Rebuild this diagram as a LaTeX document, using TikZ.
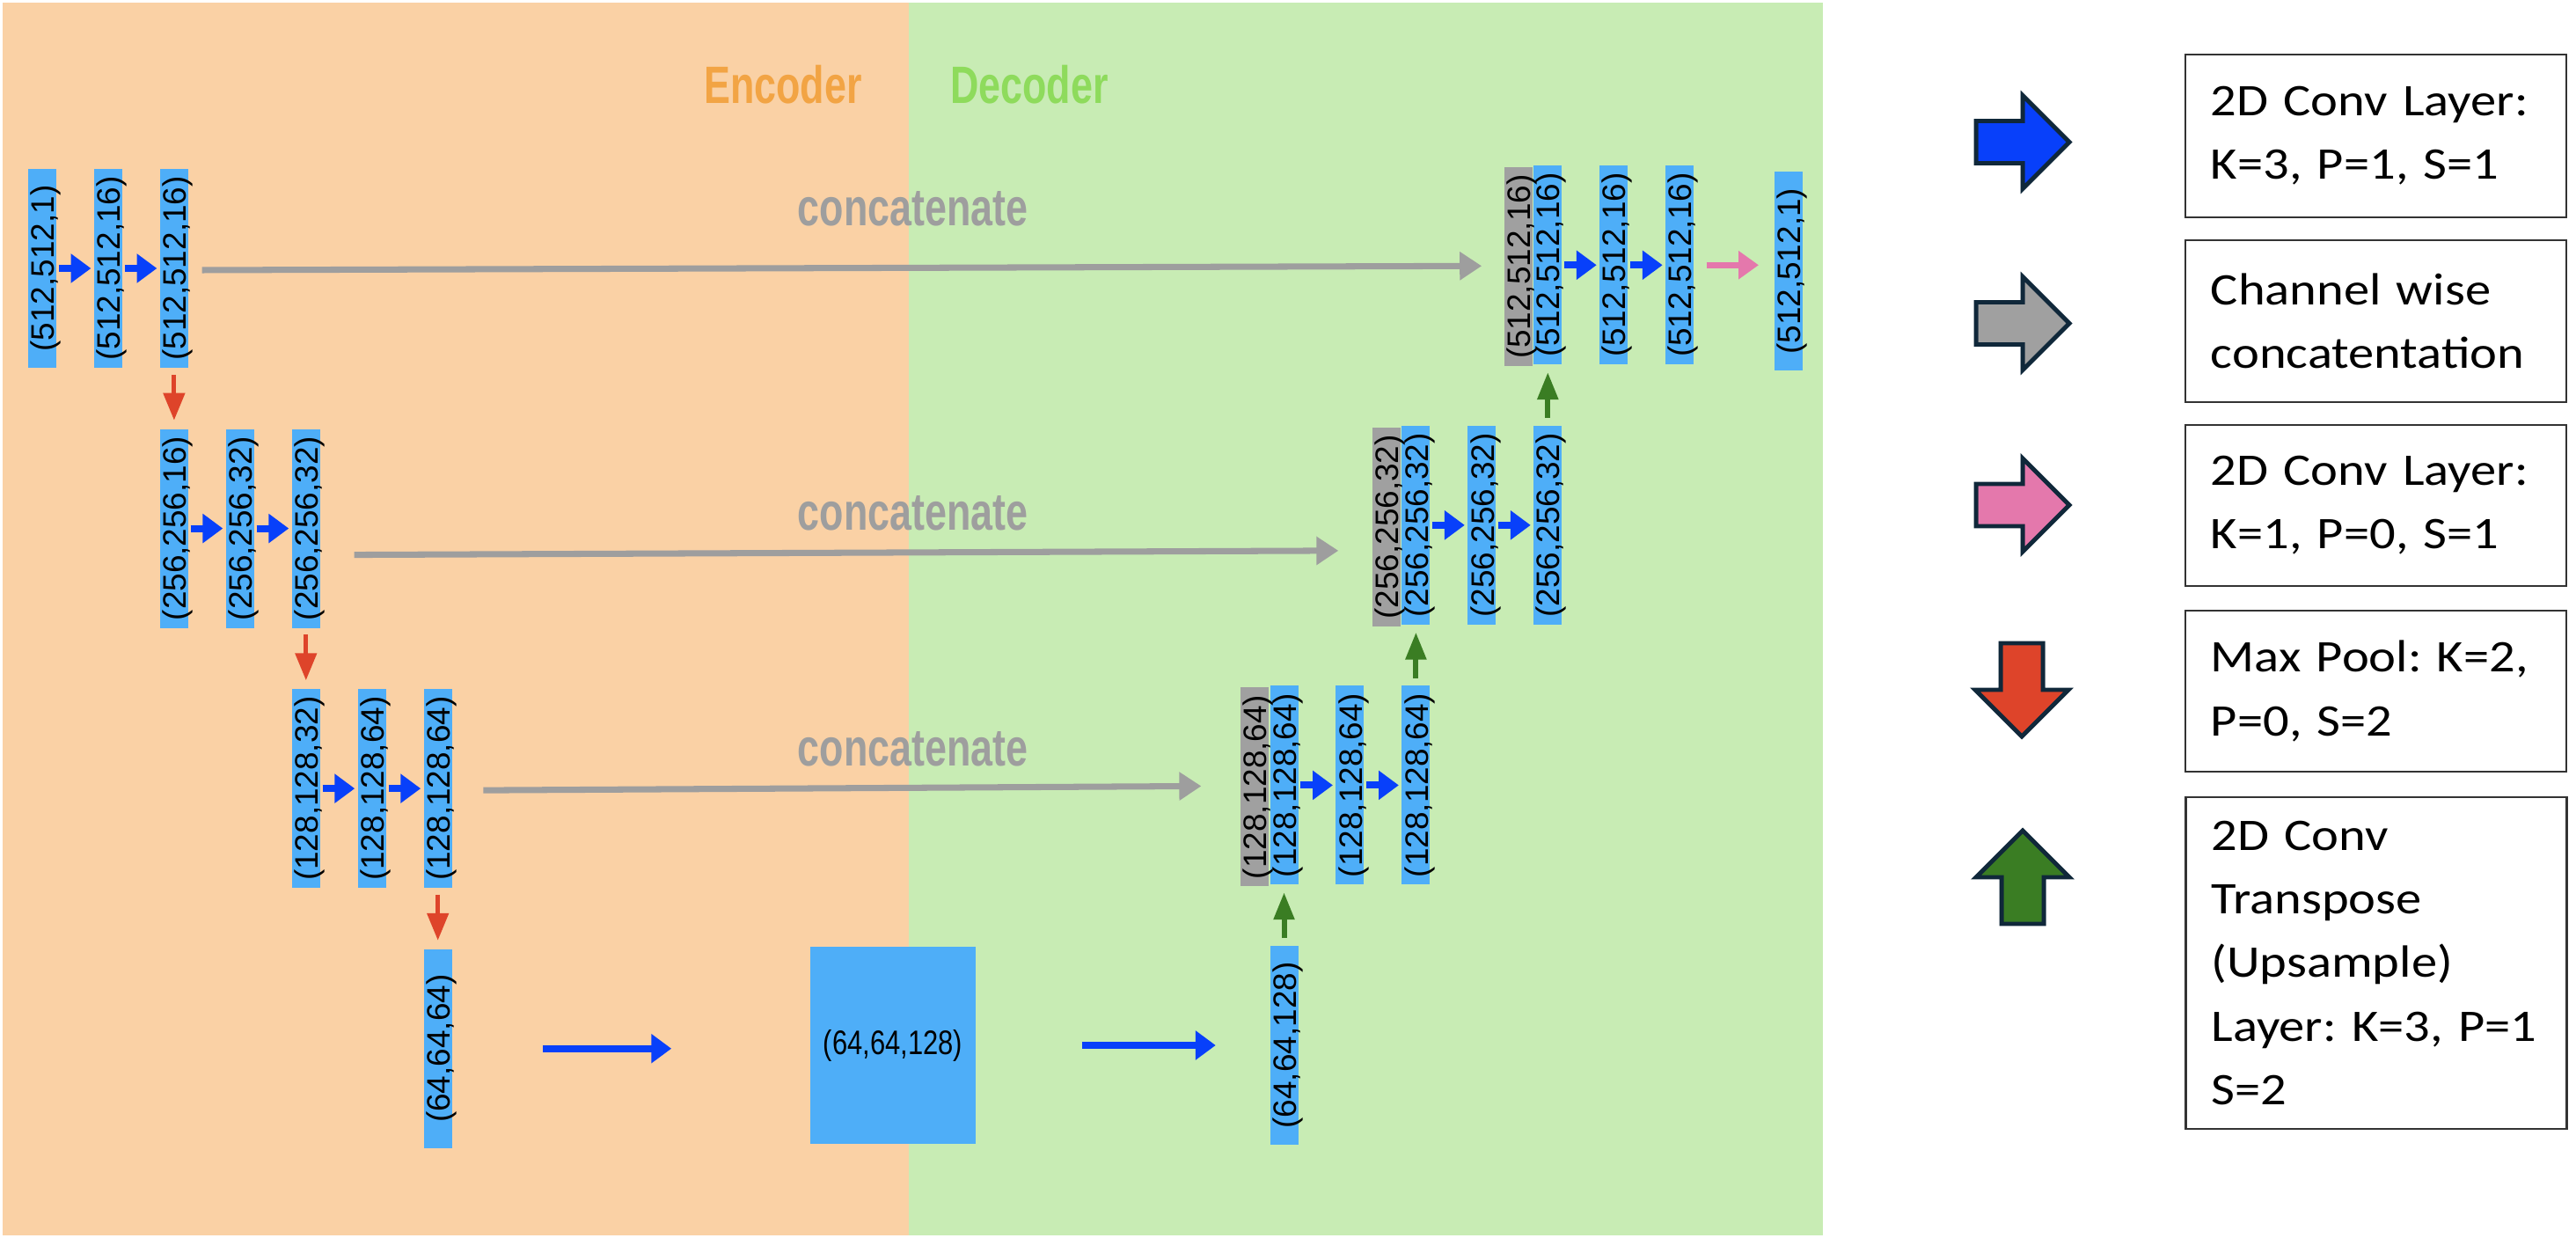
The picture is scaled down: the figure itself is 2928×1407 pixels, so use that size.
\documentclass[tikz,border=0pt]{standalone}
\usepackage{fontspec}
\usepackage{tikz}
\usetikzlibrary{positioning,arrows.meta}
\setmainfont{Liberation Sans}
\newfontfamily\narrowfont[FakeStretch=0.75]{Liberation Sans}
\newfontfamily\neckfont[FakeStretch=0.8]{Liberation Sans}
\newfontfamily\legendfont[FakeStretch=1.14]{Carlito}
\frenchspacing
\definecolor{encbg}{HTML}{FAD1A5}
\definecolor{decbg}{HTML}{C8ECB4}
\definecolor{barblue}{HTML}{4EAEF8}
\definecolor{bargray}{HTML}{A0A0A0}
\definecolor{enctext}{HTML}{F2A444}
\definecolor{dectext}{HTML}{8EDB5C}
\definecolor{catgray}{HTML}{9E9E9E}
\definecolor{convblue}{HTML}{0840FA}
\definecolor{poolred}{HTML}{DE442A}
\definecolor{upgreen}{HTML}{3A7D23}
\definecolor{outpink}{HTML}{E478AC}
\definecolor{edgedark}{HTML}{10283A}
\newcommand{\dims}[1]{\rotatebox{90}{\raisebox{-0.37em}[0pt][0pt]{#1}}}

\begin{document}
\begin{tikzpicture}[x=0.01cm,y=-0.01cm,
        node distance=0.68cm and 0.415cm,
        bar/.style={fill=barblue,inner sep=0pt,minimum width=0.32cm,minimum height=2.26cm,font=\fontsize{10.5}{12}\selectfont},
        catbar/.style={bar,fill=bargray,yshift=-0.02cm},
        title/.style={anchor=base,font=\narrowfont\bfseries\fontsize{17}{20}\selectfont},
        cattext/.style={title,text=catgray},
        conv/.style={draw=convblue,line width=2.28pt,-{Triangle[length=6.5pt,width=9.1pt]},shorten <=0.6pt,shorten >=0.8pt},
        cat/.style={draw=catgray,line width=2pt,-{Triangle[length=7.1pt,width=8.8pt]}},
        pool/.style={draw=poolred,line width=1.4pt,-{Triangle[length=8.8pt,width=6.8pt]},shorten <=2pt,shorten >=2.6pt},
        upconv/.style={draw=upgreen,line width=1.7pt,-{Triangle[length=8.8pt,width=6.5pt]},shorten <=2.3pt,shorten >=2.3pt},
        outconv/.style={draw=outpink,line width=2pt,-{Triangle[length=6.5pt,width=8.8pt]}},
        legendarrow/.style={draw=edgedark,line width=1.4pt,line join=miter},
        legendbox/.style={draw=black!80,line width=0.7pt,minimum width=4.33cm,text width=3.75cm,inner xsep=0.29cm,align=left,font=\legendfont\fontsize{14.6}{20.5}\selectfont}]

    \useasboundingbox (0,0) rectangle (2928,1407);
    \fill[encbg] (3,3) rectangle (1033,1404);
    \fill[decbg] (1033,3) rectangle (2072,1404);

    \node[title,text=enctext] (enc) at (890,118) {Encoder};
    \node[title,text=dectext] (dec) at (1170,118) {Decoder};

    \node[bar] (e1a) at (48,305) {\dims{(512,512,1)}};
    \node[bar,right=of e1a] (e1b) {\dims{(512,512,16)}};
    \node[bar,right=of e1b] (e1c) {\dims{(512,512,16)}};
    \node[bar,below=of e1c] (e2a) {\dims{(256,256,16)}};
    \node[bar,right=of e2a] (e2b) {\dims{(256,256,32)}};
    \node[bar,right=of e2b] (e2c) {\dims{(256,256,32)}};
    \node[bar,below=of e2c] (e3a) {\dims{(128,128,32)}};
    \node[bar,right=of e3a] (e3b) {\dims{(128,128,64)}};
    \node[bar,right=of e3b] (e3c) {\dims{(128,128,64)}};
    \node[bar,below=of e3c] (e4) {\dims{(64,64,64)}};

    \node[fill=barblue,minimum width=1.88cm,minimum height=2.24cm,font=\neckfont\fontsize{11}{12}\selectfont] (neck) at (1015,1188) {(64,64,128)};

    \node[bar] (d4) at (1459.5,1188) {\dims{(64,64,128)}};
    \node[bar,above=of d4] (d3a) {\dims{(128,128,64)}};
    \node[bar,right=of d3a] (d3b) {\dims{(128,128,64)}};
    \node[bar,right=of d3b] (d3c) {\dims{(128,128,64)}};
    \node[bar,above=of d3c] (d2a) {\dims{(256,256,32)}};
    \node[bar,right=of d2a] (d2b) {\dims{(256,256,32)}};
    \node[bar,right=of d2b] (d2c) {\dims{(256,256,32)}};
    \node[bar,above=of d2c] (d1a) {\dims{(512,512,16)}};
    \node[bar,right=of d1a] (d1b) {\dims{(512,512,16)}};
    \node[bar,right=of d1b] (d1c) {\dims{(512,512,16)}};
    \node[bar,right=0.9cm of d1c,yshift=-0.07cm] (out) {\dims{(512,512,1)}};
    \node[catbar,left=0pt of d3a] (d3g) {\dims{(128,128,64)}};
    \node[catbar,left=0pt of d2a] (d2g) {\dims{(256,256,32)}};
    \node[catbar,left=0pt of d1a] (d1g) {\dims{(512,512,16)}};

    \node[cattext] (cat1) at (1037.5,257) {concatenate};
    \node[cattext] (cat2) at (1037.5,603) {concatenate};
    \node[cattext] (cat3) at (1037.5,870) {concatenate};

    \draw[conv] (e1a) -- (e1b);
    \draw[conv] (e1b) -- (e1c);
    \draw[conv] (e2a) -- (e2b);
    \draw[conv] (e2b) -- (e2c);
    \draw[conv] (e3a) -- (e3b);
    \draw[conv] (e3b) -- (e3c);
    \draw[conv] (d3a) -- (d3b);
    \draw[conv] (d3b) -- (d3c);
    \draw[conv] (d2a) -- (d2b);
    \draw[conv] (d2b) -- (d2c);
    \draw[conv] (d1a) -- (d1b);
    \draw[conv] (d1b) -- (d1c);
    \draw[conv,shorten <=0pt,shorten >=0pt] ([xshift=1.03cm]e4.east) -- ([xshift=-1.57cm]neck.west |- e4.east);
    \draw[conv,shorten <=0pt,shorten >=0pt] ([xshift=1.2cm]neck.east) -- ([xshift=-0.61cm]d4.west);

    \draw[pool] (e1c) -- (e2a);
    \draw[pool] (e2c) -- (e3a);
    \draw[pool] (e3c) -- (e4);
    \draw[upconv] (d4) -- (d3a);
    \draw[upconv] (d3c) -- (d2a);
    \draw[upconv] (d2c) -- (d1a);

    \draw[cat] ([shift={(15,2)}]e1c.east) -- ([shift={(-25,-1)}]d1g.west);
    \draw[cat] ([shift={(38,30)}]e2c.east) -- ([shift={(-38,27)}]d2g.west);
    \draw[cat] ([shift={(35,2)}]e3c.east) -- ([shift={(-44,-1)}]d3g.west);
    \draw[outconv] ([xshift=0.14cm]d1c.east) -- ([xshift=-0.17cm]out.west |- d1c.east);

    \foreach \cy/\col in {161.5/convblue,367.5/bargray,574/outpink}
        \draw[legendarrow,fill=\col] (2246,\cy-24) -- (2299,\cy-24) -- (2299,\cy-53) -- (2352,\cy) -- (2299,\cy+53) -- (2299,\cy+24) -- (2246,\cy+24) -- cycle;
    \draw[legendarrow,fill=poolred] (2274,731) -- (2322,731) -- (2322,784) -- (2351,784) -- (2298,837) -- (2245,784) -- (2274,784) -- cycle;
    \draw[legendarrow,fill=upgreen] (2275,1050) -- (2323,1050) -- (2323,997) -- (2352,997) -- (2299,944) -- (2246,997) -- (2275,997) -- cycle;

    \node[legendbox,minimum height=1.85cm] (k1) at (2700.5,154.5) {2D Conv Layer:\\K=3, P=1, S=1};
    \node[legendbox,minimum height=1.84cm] (k2) at (2700.5,365) {Channel wise\\concatentation};
    \node[legendbox,minimum height=1.83cm] (k3) at (2700.5,574.5) {2D Conv Layer:\\K=1, P=0, S=1};
    \node[legendbox,minimum height=1.83cm] (k4) at (2700.5,785.5) {Max Pool: K=2,\\P=0, S=2};
    \node[legendbox,minimum height=3.77cm] (k5) at (2701,1094.5) {2D Conv\\Transpose\\(Upsample)\\Layer: K=3, P=1\\S=2};
\end{tikzpicture}
\end{document}
